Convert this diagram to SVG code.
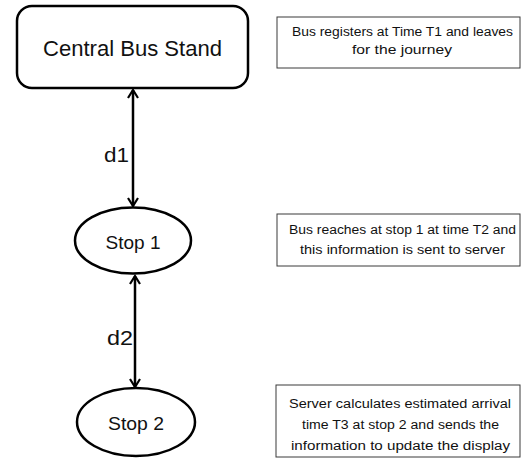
<svg xmlns="http://www.w3.org/2000/svg" width="521" height="458" viewBox="0 0 521 458">
<style>
.node{fill:#fff;stroke:#000;stroke-width:2.5}
.note{fill:#fff;stroke:#3a3a3a;stroke-width:1}
.t{font-family:"Liberation Sans",Arial,sans-serif;fill:#111;text-anchor:middle}
.s{font-size:12.5px}
.conn{stroke:#000;stroke-width:2.5;fill:none}
</style>
<defs>
<marker id="ah" viewBox="0 0 12 12" refX="10" refY="6" markerWidth="12" markerHeight="12" markerUnits="userSpaceOnUse" orient="auto-start-reverse">
<path d="M2,1 L10,6 L2,11" fill="none" stroke="#000" stroke-width="2.2"/>
</marker>
</defs>
<rect width="521" height="458" fill="#fff"/>
<g id="connectors">
<line class="conn" x1="133" y1="90" x2="133" y2="206" marker-start="url(#ah)" marker-end="url(#ah)"/>
<line class="conn" x1="135" y1="276" x2="135" y2="387" marker-start="url(#ah)" marker-end="url(#ah)"/>
</g>
<g id="central">
<rect class="node" x="17" y="6" width="231" height="82" rx="15"/>
<text class="t" x="132.5" y="56" font-size="22" textLength="179" lengthAdjust="spacingAndGlyphs">Central Bus Stand</text>
</g>
<g id="stop1">
<ellipse class="node" cx="133" cy="240.5" rx="58" ry="33"/>
<text class="t" x="133" y="249" font-size="19" textLength="55" lengthAdjust="spacingAndGlyphs">Stop 1</text>
</g>
<g id="stop2">
<ellipse class="node" cx="136" cy="422" rx="59" ry="34"/>
<text class="t" x="136" y="430" font-size="19" textLength="56" lengthAdjust="spacingAndGlyphs">Stop 2</text>
</g>
<g id="labels">
<text class="t" x="116.5" y="162" font-size="20" textLength="25" lengthAdjust="spacingAndGlyphs">d1</text>
<text class="t" x="120" y="345" font-size="20" textLength="26" lengthAdjust="spacingAndGlyphs">d2</text>
</g>
<g id="note1">
<rect class="note" x="277" y="17" width="243" height="51"/>
<text class="t s" x="402.5" y="36" textLength="221" lengthAdjust="spacingAndGlyphs">Bus registers at Time T1 and leaves</text>
<text class="t s" x="402" y="54" textLength="100" lengthAdjust="spacingAndGlyphs">for the journey</text>
</g>
<g id="note2">
<rect class="note" x="277" y="214" width="243" height="52"/>
<text class="t s" x="402.5" y="234" textLength="227" lengthAdjust="spacingAndGlyphs">Bus reaches at stop 1 at time T2 and</text>
<text class="t s" x="402.5" y="254" textLength="205" lengthAdjust="spacingAndGlyphs">this information is sent to server</text>
</g>
<g id="note3">
<rect class="note" x="276" y="385" width="244" height="72"/>
<text class="t s" x="400" y="408" textLength="222" lengthAdjust="spacingAndGlyphs">Server calculates estimated arrival</text>
<text class="t s" x="400.5" y="429" textLength="197" lengthAdjust="spacingAndGlyphs">time T3 at stop 2 and sends the</text>
<text class="t s" x="400.5" y="450" textLength="219" lengthAdjust="spacingAndGlyphs">information to update the display</text>
</g>
</svg>
